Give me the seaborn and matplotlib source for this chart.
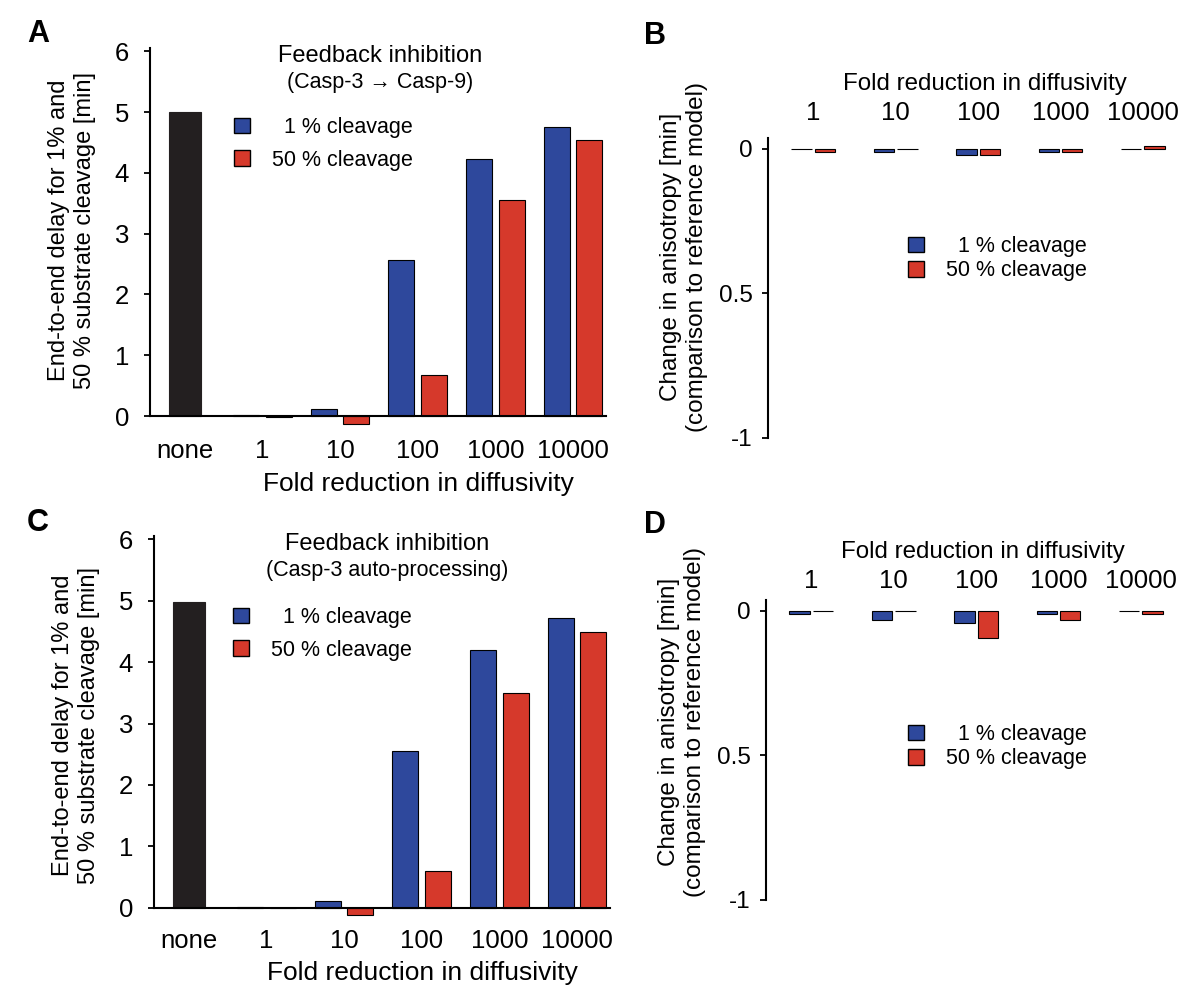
import pandas as pd
import matplotlib
matplotlib.use("Agg")
import matplotlib.pyplot as plt
from matplotlib.patches import Patch
import seaborn as sns

sns.set_style("ticks")
plt.rcParams["font.family"] = ["Liberation Sans", "DejaVu Sans"]
plt.rcParams.update({"text.color": "black", "axes.labelcolor": "black",
                     "xtick.color": "black", "ytick.color": "black",
                     "axes.edgecolor": "black"})

# ---- data ----
folds = ["1", "10", "100", "1000", "10000"]
delay_cats = ["none"] + folds
series = ["  1 % cleavage", "50 % cleavage"]

# A: feedback inhibition (Casp-3 -> Casp-9), delay [min]
none_a = 5.0
delay_a_1 = [0.02, 0.11, 2.57, 4.23, 4.75]
delay_a_50 = [-0.01, -0.13, 0.68, 3.55, 4.54]

# C: feedback inhibition (Casp-3 auto-processing), delay [min]
none_c = 4.98
delay_c_1 = [0.02, 0.11, 2.55, 4.20, 4.72]
delay_c_50 = [0.0, -0.11, 0.60, 3.50, 4.49]

# B / D: change in anisotropy [min]
aniso_b_1 = [0.0, -0.01, -0.02, -0.01, 0.0]
aniso_b_50 = [-0.01, 0.0, -0.02, -0.01, 0.01]
aniso_d_1 = [-0.01, -0.03, -0.04, -0.01, 0.0]
aniso_d_50 = [0.0, 0.0, -0.095, -0.03, -0.012]

BLUE = "#2E489C"
RED = "#D6392B"
BLACK = "#231F20"

W, H = 1200, 994
fig = plt.figure(figsize=(12, 9.94), dpi=100)


def px_axes(left, top, right, bottom):
    return fig.add_axes([left / W, 1 - bottom / H, (right - left) / W, (bottom - top) / H])


def long_df(v1, v50):
    return pd.DataFrame({
        "fold": folds * 2,
        "series": [series[0]] * len(folds) + [series[1]] * len(folds),
        "value": list(v1) + list(v50),
    })


def add_legend(ax, x, top, spacing):
    handles = [Patch(facecolor=BLUE, edgecolor="black", linewidth=1, label=series[0]),
               Patch(facecolor=RED, edgecolor="black", linewidth=1, label=series[1])]
    ax.legend(handles=handles, loc="upper left", bbox_to_anchor=(x / W, 1 - top / H),
              bbox_transform=fig.transFigure, frameon=False, fontsize=15.5,
              handlelength=0.75, handleheight=0.75, handletextpad=1.0,
              labelspacing=spacing, borderpad=0, borderaxespad=0)


def delay_panel(ax, none_val, v1, v50, lab_pad, xlab_y, ylab_y):
    sns.barplot(data=long_df(v1, v50), x="fold", y="value", hue="series",
                order=delay_cats, hue_order=series, palette=[BLUE, RED], saturation=1,
                width=0.84, gap=0.2, edgecolor="black", linewidth=0.8,
                errorbar=None, legend=False, ax=ax)
    sns.barplot(x=["none"], y=[none_val], order=delay_cats, color=BLACK, saturation=1,
                width=0.41, edgecolor=BLACK, linewidth=0.8, errorbar=None, ax=ax)
    ax.set_xlim(-0.45, 5.42)
    ax.set_ylim(-0.25, 6.05)
    ax.set_yticks(range(7))
    ax.spines["bottom"].set_position(("data", 0))
    ax.spines["left"].set_bounds(0, 6.05)
    for s in ["top", "right"]:
        ax.spines[s].set_visible(False)
    for s in ["left", "bottom"]:
        ax.spines[s].set_linewidth(1.5)
    ax.tick_params(axis="x", length=0, pad=lab_pad, labelsize=18.5)
    ax.tick_params(axis="y", length=4, width=1.3, pad=11, labelsize=18.5)
    ax.set_xlabel("Fold reduction in diffusivity", fontsize=19)
    ax.xaxis.set_label_coords(0.59, xlab_y)
    ax.set_ylabel("End-to-end delay for 1% and\n50 % substrate cleavage [min]",
                  fontsize=17, linespacing=1.25, va="center", ha="center")
    ax.yaxis.set_label_coords(-0.171, ylab_y)


def aniso_panel(ax, v1, v50, lab_pad, xlab_y, ylab_y):
    sns.barplot(data=long_df(v1, v50), x="fold", y="value", hue="series",
                order=folds, hue_order=series, palette=[BLUE, RED], saturation=1,
                width=0.57, gap=0.13, edgecolor="black", linewidth=0.8,
                errorbar=None, legend=False, ax=ax)
    ax.set_xlim(-0.55, 4.45)
    ax.set_ylim(-1, 0.038)
    ax.set_yticks([0, -0.5, -1])
    ax.set_yticklabels(["0", "0.5", "-1"])
    ax.xaxis.tick_top()
    ax.xaxis.set_label_position("top")
    for s in ["top", "right", "bottom"]:
        ax.spines[s].set_visible(False)
    ax.spines["left"].set_linewidth(1.5)
    ax.tick_params(axis="x", length=0, pad=lab_pad, labelsize=18.5)
    ax.tick_params(axis="y", length=4, width=1.3, pad=7, labelsize=17.5)
    ax.set_xlabel("Fold reduction in diffusivity", fontsize=17.4)
    ax.xaxis.set_label_coords(0.527, xlab_y)
    ax.set_ylabel("Change in anisotropy [min]\n(comparison to reference model)",
                  fontsize=17.5, linespacing=1.22, va="center", ha="center")
    ax.yaxis.set_label_coords(-0.204, ylab_y)


# A
ax_a = px_axes(150, 48.2, 605.5, 431.2)
delay_panel(ax_a, none_a, delay_a_1, delay_a_50, 16.5, -0.1065, 0.525)
fig.text(380 / W, 1 - 62 / H, "Feedback inhibition", ha="center", va="baseline", fontsize=17)
fig.text(380 / W, 1 - 88 / H, "(Casp-3 \u2192 Casp-9)", ha="center", va="baseline", fontsize=15.5)
add_legend(ax_a, 234, 117, 0.55)

# C
ax_c = px_axes(154, 536.2, 609.5, 923.1)
delay_panel(ax_c, none_c, delay_c_1, delay_c_50, 15, -0.098, 0.512)
fig.text(387 / W, 1 - 550 / H, "Feedback inhibition", ha="center", va="baseline", fontsize=17)
fig.text(387 / W, 1 - 576 / H, "(Casp-3 auto-processing)", ha="center", va="baseline", fontsize=15.5)
add_legend(ax_c, 233, 607, 0.55)

# B
ax_b = px_axes(768, 138, 1180, 438)
aniso_panel(ax_b, aniso_b_1, aniso_b_50, 9, 1.16, 0.603)
add_legend(ax_b, 908, 236, 0.15)

# D
ax_d = px_axes(766, 600, 1178, 900)
aniso_panel(ax_d, aniso_d_1, aniso_d_50, 5, 1.14, 0.593)
add_legend(ax_d, 908, 724, 0.15)

# panel letters
for letter, x, y in [("A", 27, 42), ("B", 644, 44), ("C", 27, 531), ("D", 644, 533)]:
    fig.text(x / W, 1 - y / H, letter, fontsize=22, fontweight="bold", va="baseline")

fig.savefig("out.png", dpi=100)
